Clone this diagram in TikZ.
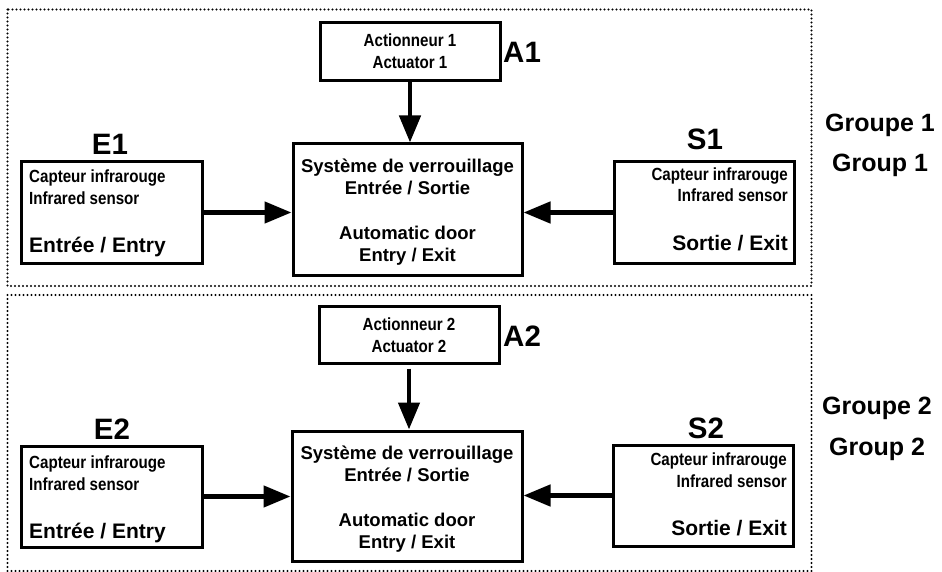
\documentclass[tikz,border=0pt]{standalone}
\usepackage{fontspec}
\setmainfont{Liberation Sans}
\newfontfamily\narrowfont{Liberation Sans}[FakeStretch=0.86]
\usetikzlibrary{arrows.meta}
\tikzset{
  grp/.style={line width=2.2bp, line cap=round, dash pattern=on 0bp off 4bp},
  blk/.style={draw, line width=3bp, inner sep=0pt},
  smalltxt/.style={inner sep=0pt, font=\narrowfont\bfseries\fontsize{17.6bp}{20bp}\selectfont},
  midtxt/.style={inner sep=0pt, font=\bfseries\fontsize{21bp}{24bp}\selectfont},
  ctrtxt/.style={inner sep=0pt, anchor=base, font=\bfseries\fontsize{18.5bp}{22bp}\selectfont},
  lbl/.style={inner sep=0pt, font=\bfseries\fontsize{29.5bp}{34bp}\selectfont},
  gtxt/.style={inner sep=0pt, anchor=base, font=\bfseries\fontsize{25bp}{30bp}\selectfont},
  flow/.style={line width=4.6bp, -{Triangle[length=27bp,width=21bp]}},
}
\begin{document}
\begin{tikzpicture}[x=1bp,y=-1bp]
\useasboundingbox (0,0) rectangle (942,572);
% ---------- Group 1 ----------
\draw[grp] (7.5,9.5) rectangle (811.5,286);
\node[blk, minimum width=180bp, minimum height=58bp] (A1) at (410,52) {};
\node[smalltxt, anchor=base] (A1t1) at (410,47) {Actionneur 1};
\node[smalltxt, anchor=base] (A1t2) at (410,69) {Actuator 1};
\node[lbl, anchor=base west] (A1l) at (503,63) {A1};
\node[blk, minimum width=229bp, minimum height=131bp] (C1) at (407.5,209.5) {};
\node[ctrtxt] (C1t1) at (407.5,173) {Système de verrouillage};
\node[ctrtxt] (C1t2) at (407.5,195) {Entrée / Sortie};
\node[ctrtxt] (C1t3) at (407.5,240) {Automatic door};
\node[ctrtxt] (C1t4) at (407.5,262) {Entry / Exit};
\node[blk, minimum width=180bp, minimum height=101bp] (E1) at (112,212.5) {};
\node[smalltxt, anchor=base west] (E1t1) at (29,183) {Capteur infrarouge};
\node[smalltxt, anchor=base west] (E1t2) at (29,205) {Infrared sensor};
\node[midtxt, anchor=base west] (E1t3) at (29,253) {Entrée / Entry};
\node[lbl, anchor=base] (E1l) at (110,155) {E1};
\node[blk, minimum width=180bp, minimum height=101bp] (S1) at (704,212.5) {};
\node[smalltxt, anchor=base east] (S1t1) at (788,181) {Capteur infrarouge};
\node[smalltxt, anchor=base east] (S1t2) at (788,202) {Infrared sensor};
\node[midtxt, anchor=base east] (S1t3) at (788,251) {Sortie / Exit};
\node[lbl, anchor=base] (S1l) at (705,150) {S1};
\node[gtxt] (G1a) at (880,132) {Groupe 1};
\node[gtxt] (G1b) at (880,172) {Group 1};
\draw[flow] (A1.south) -- (A1.south |- C1.north);
\draw[flow] (E1.east) -- (E1.east -| C1.west);
\draw[flow] (S1.west) -- (S1.west -| C1.east);
% ---------- Group 2 ----------
\draw[grp] (7.5,295) rectangle (811.5,571);
\node[blk, minimum width=180bp, minimum height=57bp] (A2) at (409,334.5) {};
\node[smalltxt, anchor=base] (A2t1) at (409,330) {Actionneur 2};
\node[smalltxt, anchor=base] (A2t2) at (409,352) {Actuator 2};
\node[lbl, anchor=base west] (A2l) at (503,346) {A2};
\node[blk, minimum width=230bp, minimum height=130bp] (C2) at (407,496) {};
\node[ctrtxt] (C2t1) at (407,459) {Système de verrouillage};
\node[ctrtxt] (C2t2) at (407,481) {Entrée / Sortie};
\node[ctrtxt] (C2t3) at (407,526) {Automatic door};
\node[ctrtxt] (C2t4) at (407,548) {Entry / Exit};
\node[blk, minimum width=180bp, minimum height=101bp] (E2) at (112,496.5) {};
\node[smalltxt, anchor=base west] (E2t1) at (29,468) {Capteur infrarouge};
\node[smalltxt, anchor=base west] (E2t2) at (29,490) {Infrared sensor};
\node[midtxt, anchor=base west] (E2t3) at (29,538) {Entrée / Entry};
\node[lbl, anchor=base] (E2l) at (112,439) {E2};
\node[blk, minimum width=180bp, minimum height=101bp] (S2) at (703,495.5) {};
\node[smalltxt, anchor=base east] (S2t1) at (787,465) {Capteur infrarouge};
\node[smalltxt, anchor=base east] (S2t2) at (787,487) {Infrared sensor};
\node[midtxt, anchor=base east] (S2t3) at (787,535) {Sortie / Exit};
\node[lbl, anchor=base] (S2l) at (706,438) {S2};
\node[gtxt] (G2a) at (877,414) {Groupe 2};
\node[gtxt] (G2b) at (877,455) {Group 2};
\draw[flow] ([yshift=-4bp]A2.south) -- (A2.south |- C2.north);
\draw[flow] (E2.east) -- (E2.east -| C2.west);
\draw[flow] (S2.west) -- (S2.west -| C2.east);
\end{tikzpicture}
\end{document}
